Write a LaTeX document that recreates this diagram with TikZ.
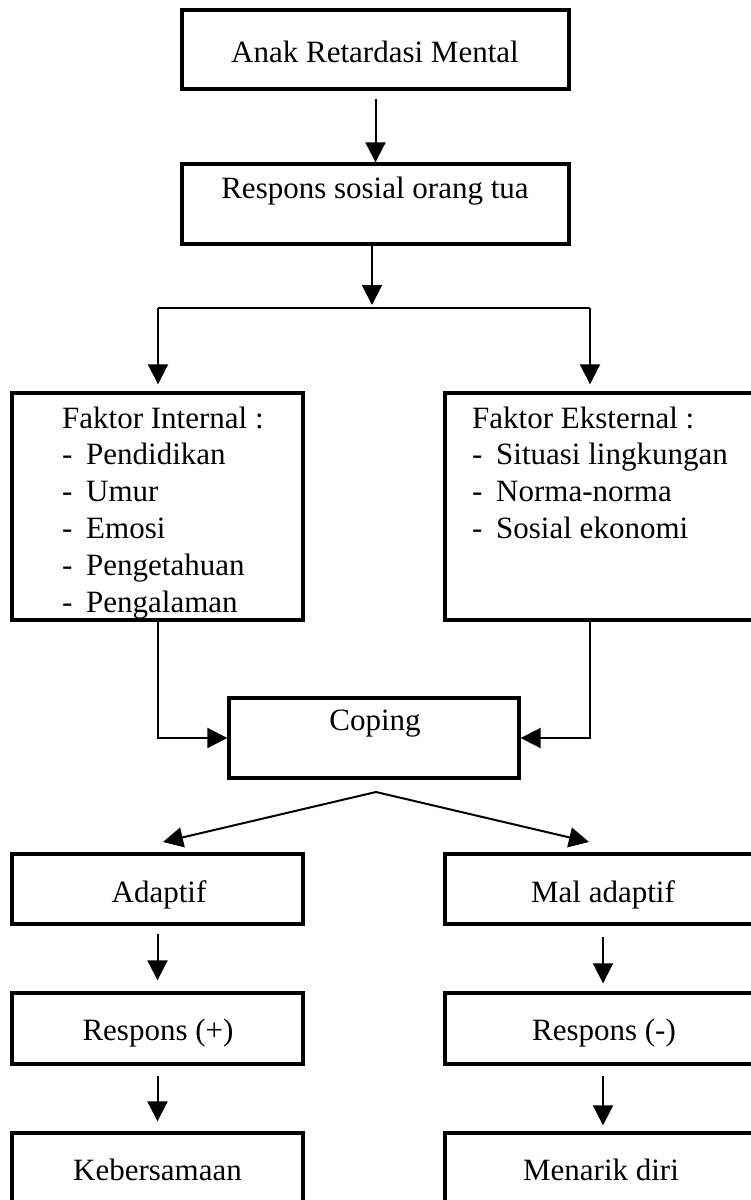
\documentclass[tikz,border=0pt]{standalone}
\usepackage{fontspec}
\setmainfont{Liberation Serif}
\usetikzlibrary{arrows.meta}

\begin{document}
\begin{tikzpicture}[x=1pt, y=-1pt, font=\fontsize{31}{37}\selectfont]
    \tikzstyle{box_main} = [draw=black, line width=3.4pt, rectangle, inner sep=0pt]
    \tikzstyle{txt_main} = [anchor=base, inner sep=0pt]
    \tikzstyle{list_main} = [anchor=base west, inner sep=0pt]
    \tikzstyle{arrow_main} = [-{Triangle[length=20pt,width=20pt]}, black, line width=2pt]
    \tikzstyle{line_main} = [black, line width=2pt]

    \useasboundingbox (0,0) rectangle (751,1200);
    \clip (0,0) rectangle (751,1200);

    % boxes
    \node[box_main, minimum width=387pt, minimum height=79pt] (anak) at (375.5,49.5) {};
    \node[box_main, minimum width=387pt, minimum height=80pt] (resp) at (375.5,204) {};
    \node[box_main, minimum width=291pt, minimum height=227pt] (intl) at (157.5,506.5) {};
    \node[box_main, minimum width=316pt, minimum height=227pt] (extl) at (603,506.5) {};
    \node[box_main, minimum width=290pt, minimum height=80pt] (coping) at (374,738) {};
    \node[box_main, minimum width=291pt, minimum height=70pt] (adapt) at (157.5,889) {};
    \node[box_main, minimum width=316pt, minimum height=70pt] (mal) at (603,889) {};
    \node[box_main, minimum width=291pt, minimum height=71pt] (respP) at (157.5,1028.5) {};
    \node[box_main, minimum width=316pt, minimum height=71pt] (respM) at (603,1028.5) {};
    \node[box_main, minimum width=291pt, minimum height=97pt] (keb) at (157.5,1181.5) {};
    \node[box_main, minimum width=316pt, minimum height=97pt] (men) at (603,1181.5) {};

    % texts
    \node[txt_main] (anakT) at (375,62) {Anak Retardasi Mental};
    \node[txt_main] (respT) at (375,198) {Respons sosial orang tua};
    \node[txt_main] (copingT) at (375,730) {Coping};
    \node[txt_main] (adaptT) at (159,902) {Adaptif};
    \node[txt_main] (malT) at (603,902) {Mal adaptif};
    \node[txt_main] (respPT) at (158,1040) {Respons (+)};
    \node[txt_main] (respMT) at (604,1040) {Respons (-)};
    \node[txt_main] (kebT) at (157.5,1180) {Kebersamaan};
    \node[txt_main] (menT) at (601,1180) {Menarik diri};

    \node[list_main] (intlT) at (62,428) {Faktor Internal :};
    \foreach \lbl [count=\i] in {Pendidikan, Umur, Emosi, Pengetahuan, Pengalaman}
        \node[list_main] (intl\i) at (62, 428+36.8*\i) {\makebox[24pt][l]{-}\lbl};
    \node[list_main] (extlT) at (472,428) {Faktor Eksternal :};
    \foreach \lbl [count=\i] in {Situasi lingkungan, Norma-norma, Sosial ekonomi}
        \node[list_main] (extl\i) at (472, 428+36.8*\i) {\makebox[24pt][l]{-}\lbl};

    % connectors
    \coordinate (split) at (372,308);
    \coordinate (splitL) at (158,308);
    \coordinate (splitR) at (590,308);
    \coordinate (apex) at (376,792);
    \coordinate (tipL) at (163,842);
    \coordinate (tipR) at (589,842);

    \draw[arrow_main, shorten <=8pt] (anak.south) -- (resp.north);
    \draw[arrow_main, shorten >=3pt] (resp.south -| split) -- (split);
    \draw[line_main] (splitL) -- (splitR);
    \draw[arrow_main, shorten >=7pt] (splitL) -- (splitL |- intl.north);
    \draw[arrow_main, shorten >=7pt] (splitR) -- (splitR |- extl.north);
    \draw[arrow_main] (splitL |- intl.south) |- (coping.west);
    \draw[arrow_main] (splitR |- extl.south) |- (coping.east);
    \draw[arrow_main, line cap=round] (apex) -- (tipL);
    \draw[arrow_main, line cap=round] (apex) -- (tipR);
    \draw[arrow_main, shorten <=8pt, shorten >=11pt] (adapt.south) -- (respP.north);
    \draw[arrow_main, shorten <=11pt, shorten >=8pt] (mal.south) -- (respM.north);
    \draw[arrow_main, shorten <=10pt, shorten >=10pt] (respP.south) -- (keb.north);
    \draw[arrow_main, shorten <=10pt, shorten >=6pt] (respM.south) -- (men.north);

\end{tikzpicture}
\end{document}
